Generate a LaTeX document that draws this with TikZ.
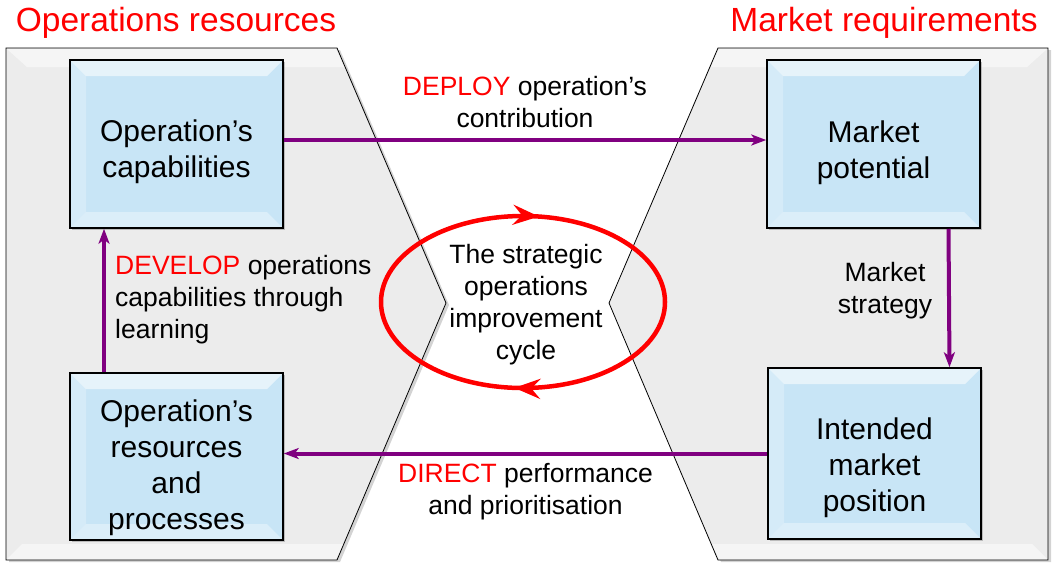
\documentclass[tikz,border=0pt]{standalone}
\usepackage{fontspec}
\setmainfont{Liberation Sans}
\usepackage{xcolor}
\usetikzlibrary{arrows.meta,shadows,decorations.markings}

\definecolor{panelgray}{RGB}{236,236,236}
\definecolor{boxblue}{RGB}{200,229,246}
\definecolor{flowpurple}{RGB}{128,0,128}

% pushes the text of a box down
\newcommand{\padtop}[1]{\rule{0pt}{#1}}

\begin{document}
\begin{tikzpicture}[
    x=1pt, y=-1pt,
    every node/.style={inner sep=0pt, align=center, font=\fontsize{26.5}{32}\selectfont},
    panel/.style={draw=black, line width=0.8pt, fill=panelgray,
        drop shadow={shadow xshift=3pt, shadow yshift=-2pt, opacity=0.35}},
    block/.style={draw=black, line width=1.5pt, fill=boxblue,
        minimum width=213pt, minimum height=168pt,
        font=\fontsize{30}{36}\selectfont,
        drop shadow={shadow xshift=2pt, shadow yshift=-2pt, opacity=0.45},
        path picture={
            \fill[white, opacity=0.55] (path picture bounding box.north west) -- (path picture bounding box.north east)
                -- ([xshift=-16pt, yshift=-16pt]path picture bounding box.north east)
                -- ([xshift=16pt, yshift=-16pt]path picture bounding box.north west) -- cycle;
            \fill[white, opacity=0.25] (path picture bounding box.north west) -- (path picture bounding box.south west)
                -- ([xshift=16pt, yshift=16pt]path picture bounding box.south west)
                -- ([xshift=16pt, yshift=-16pt]path picture bounding box.north west) -- cycle;
            \fill[white, opacity=0.35] (path picture bounding box.south west) -- (path picture bounding box.south east)
                -- ([xshift=-16pt, yshift=16pt]path picture bounding box.south east)
                -- ([xshift=16pt, yshift=16pt]path picture bounding box.south west) -- cycle;
        }},
    title/.style={text=red, font=\fontsize{33.5}{40}\selectfont},
    flow/.style={draw=flowpurple, line width=4pt, -{Stealth[length=15pt, width=11pt, inset=4pt]}},
    cycle ring/.style={draw=red, line width=4.5pt,
        postaction={decorate, decoration={markings,
            mark=at position 0.262 with {\arrow{Stealth[length=26pt, width=20pt, inset=9pt]}},
            mark=at position 0.772 with {\arrow{Stealth[length=26pt, width=20pt, inset=9pt]}}}}}
]
\useasboundingbox (0,0) rectangle (1057,566);

% Panels
\draw[panel] (6,48) -- (337,48) -- (446,303) -- (337,560) -- (6,560) -- cycle;
\draw[panel] (718,48) -- (1048,48) -- (1048,560) -- (718,560) -- (609,303) -- cycle;
\fill[white, opacity=0.5] (7,49) -- (336,49) -- (344,67) -- (27,67) -- cycle;
\fill[white, opacity=0.5] (719,49) -- (1047,49) -- (1027,67) -- (711,67) -- cycle;
\fill[white, opacity=0.5] (7,559) -- (336,559) -- (343,544) -- (22,544) -- cycle;
\fill[white, opacity=0.5] (719,559) -- (1047,559) -- (1032,544) -- (712,544) -- cycle;

\node[title] (opsres) at (176,23) {Operations resources};
\node[title] (mktreq) at (884,23) {Market requirements};

% Boxes
\node[block] (capab) at (176.5,144) {\padtop{38pt}Operation's\\capabilities};
\node[block, minimum height=167pt] (resour) at (176.5,456.5) {\padtop{44pt}Operation's\\resources\\and\\processes};
\node[block] (potent) at (873.5,144) {\padtop{39pt}Market\\potential};
\node[block, minimum height=171pt] (position) at (874.5,453.5) {\padtop{50pt}Intended\\market\\position};

% Cycle
\draw[cycle ring] (523,302) ellipse [x radius=142, y radius=86];
\node (cyc) at (526,305) {The strategic\\operations\\improvement\\cycle};

% Edges
\draw[flow] ([yshift=4pt]capab.east) -- node[midway, above=10pt] {\textcolor{red}{DEPLOY} operation's\\contribution} ([yshift=4pt]potent.west);
\draw[flow] ([xshift=75pt]potent.south) -- ([xshift=75pt]position.north);
\draw[flow] (position.west) -- node[midway, below=8pt] {\textcolor{red}{DIRECT} performance\\and prioritisation} (position.west -| resour.east);
\draw[flow] ([xshift=-72.5pt]resour.north) -- ([xshift=-72.5pt]capab.south);

\node[align=left, anchor=west] (develop) at (115,300) {\textcolor{red}{DEVELOP} operations\\capabilities through\\learning};
\node (mktstrat) at (885,291) {Market\\strategy};

\end{tikzpicture}
\end{document}
